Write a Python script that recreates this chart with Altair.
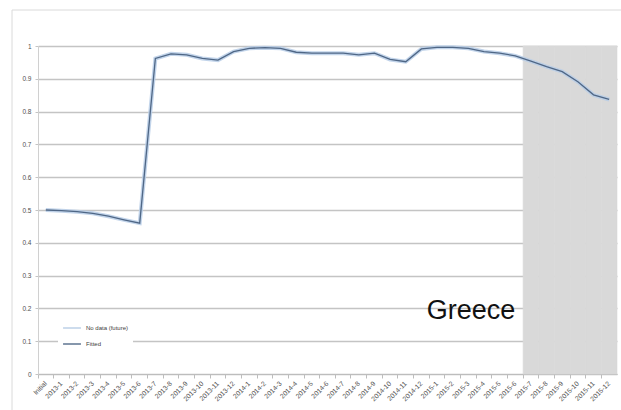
import altair as alt
import pandas as pd

# Category labels along the x axis (monthly, from the initial value to Dec 2015)
months = [
    "Initial",
    "2013-1", "2013-2", "2013-3", "2013-4", "2013-5", "2013-6",
    "2013-7", "2013-8", "2013-9", "2013-10", "2013-11", "2013-12",
    "2014-1", "2014-2", "2014-3", "2014-4", "2014-5", "2014-6",
    "2014-7", "2014-8", "2014-9", "2014-10", "2014-11", "2014-12",
    "2015-1", "2015-2", "2015-3", "2015-4", "2015-5", "2015-6",
    "2015-7", "2015-8", "2015-9", "2015-10", "2015-11", "2015-12",
]

# Fitted index per month
fitted = [
    0.500, 0.498, 0.495, 0.490, 0.481, 0.470, 0.460,
    0.962, 0.976, 0.973, 0.962, 0.957, 0.983,
    0.993, 0.995, 0.993, 0.981, 0.978, 0.978,
    0.978, 0.973, 0.978, 0.959, 0.952, 0.991,
    0.996, 0.996, 0.993, 0.983, 0.978, 0.970,
    0.954, 0.937, 0.922, 0.891, 0.851, 0.837,
]

# Months without data yet (shaded band)
future_months = ["2015-7", "2015-8", "2015-9", "2015-10", "2015-11", "2015-12"]
future_top = [1, 1, 1, 1, 1, 1]

y_ticks = [0, 0.1, 0.2, 0.3, 0.4, 0.5, 0.6, 0.7, 0.8, 0.9, 1]

series_names = ["No data (future)", "Fitted"]
series_colors = ["#b7cde6", "#4f6786"]

halo = pd.DataFrame({"month": months, "value": fitted, "series": series_names[0]})
core = pd.DataFrame({"month": months, "value": fitted, "series": series_names[1]})
future = pd.DataFrame({"month": future_months, "top": future_top})

W, H = 579, 328

x_enc = alt.X(
    "month:N",
    sort=months,
    scale=alt.Scale(type="band", paddingInner=0, paddingOuter=0),
    axis=alt.Axis(
        title=None,
        labelAngle=-45,
        labelFontSize=6.8,
        labelColor="#505050",
        labelFont="Liberation Sans",
        labelPadding=2,
        bandPosition=0,
        labelOffset=-2,
        tickSize=4,
        tickColor="#bdbdbd",
        domainColor="#bdbdbd",
        grid=False,
        labelOverlap=False,
    ),
)

y_scale = alt.Scale(domain=[0, 1], nice=False)
y_axis = alt.Axis(
    title=None,
    values=y_ticks,
    format="~g",
    labelFontSize=6.5,
    labelColor="#505050",
    labelFont="Liberation Sans",
    labelPadding=4,
    labelOverlap=False,
    tickSize=3,
    tickColor="#c4c4c4",
    domainColor="#d0d0d0",
    grid=True,
    gridColor="#c4c4c4",
    gridWidth=1.3,
)

color_enc = alt.Color(
    "series:N",
    scale=alt.Scale(domain=series_names, range=series_colors),
    legend=alt.Legend(
        title=None,
        orient="none",
        legendX=20,
        legendY=268,
        fillColor="white",
        padding=4,
        symbolType="stroke",
        symbolSize=320,
        symbolStrokeWidth=1.6,
        labelFontSize=6,
        labelColor="#404040",
        labelFont="Liberation Sans",
        rowPadding=2,
        offset=0,
    ),
)

shade = alt.Chart(future).mark_bar(color="#d9d9d9", stroke="#d9d9d9", strokeWidth=0.6).encode(
    x=x_enc,
    y=alt.Y("top:Q", scale=y_scale, axis=y_axis),
)

halo_line = alt.Chart(halo).mark_line(strokeWidth=4, opacity=0.85).encode(
    x=x_enc, y=alt.Y("value:Q", scale=y_scale, axis=y_axis), color=color_enc
)

core_line = alt.Chart(core).mark_line(strokeWidth=1.3).encode(
    x=x_enc, y=alt.Y("value:Q", scale=y_scale, axis=y_axis), color=color_enc
)

one = pd.DataFrame({"k": [0]})
frame_top = alt.Chart(one).mark_rule(color="#dadada", strokeWidth=1).encode(
    x=alt.value(-26), x2=alt.value(W + 4), y=alt.value(-36)
)
frame_left = alt.Chart(one).mark_rule(color="#dadada", strokeWidth=1).encode(
    x=alt.value(-26), y=alt.value(-36), y2=alt.value(H + 36)
)

country = alt.Chart(one).mark_text(
    text="Greece", font="Liberation Sans", fontSize=27, color="#111111",
    align="center", baseline="alphabetic",
).encode(x=alt.value(433), y=alt.value(273))

chart = (
    alt.layer(shade, halo_line, core_line, frame_top, frame_left, country)
    .properties(
        width=W,
        height=H,
        autosize=alt.AutoSizeParams(type="none"),
        padding={"left": 38, "top": 46, "right": 4, "bottom": 36},
        background="white",
    )
    .configure_view(stroke=None)
)

chart.save("out.html", embed_options={"renderer": "svg", "actions": False})
